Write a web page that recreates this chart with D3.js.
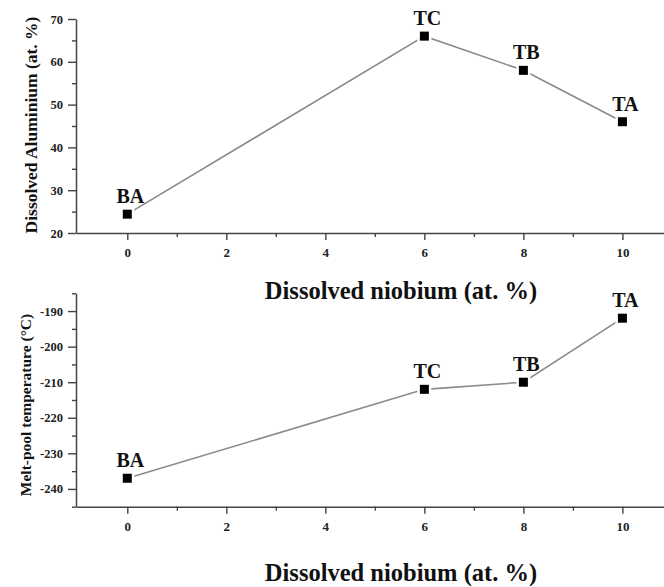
<!DOCTYPE html>
<html>
<head>
<meta charset="utf-8">
<script src="https://cdn.jsdelivr.net/npm/d3@7"></script>
<style>
  html, body { margin: 0; padding: 0; background: #fff; }
  svg { display: block; }
  text { font-family: "Liberation Serif", "Times New Roman", serif; font-weight: bold; }
</style>
</head>
<body>
<svg id="chart" width="664" height="587"></svg>
<script>
// ---- data ----
const samples = ["BA", "TC", "TB", "TA"];
const niobium = [0, 6, 8, 10];
const aluminium = [24.4, 66, 58, 46];
const meltPoolTemp = [-237, -212, -210, -192];
const xMajorTicks = [0, 2, 4, 6, 8, 10];
const xMinorTicks = [1, 3, 5, 7, 9];
const alMajorTicks = [20, 30, 40, 50, 60, 70];
const alMinorTicks = [25, 35, 45, 55, 65];
const tMajorTicks = [-240, -230, -220, -210, -200, -190];
const tMinorTicks = [-245, -235, -225, -215, -205, -195, -185];
const xTitle = "Dissolved niobium (at. %)";
const alTitle = "Dissolved Aluminium (at. %)";
const tTitle = "Melt-pool temperature (\u00B0C)";

const svg = d3.select("#chart");
const axisColor = "#444";

function panel(cfg) {
  const g = svg.append("g");
  const x = d3.scaleLinear().domain([-1.036, 10.84]).range([76, 664]);
  const y = d3.scaleLinear().domain(cfg.yDomain).range(cfg.yRange);
  const y0 = cfg.yRange[0];
  const fmt = d => String(d);

  const xa = g.append("g").attr("transform", `translate(0,${y0})`)
    .call(d3.axisBottom(x).tickValues(xMajorTicks).tickSize(7).tickPadding(8).tickSizeOuter(0).tickFormat(fmt));
  const xm = g.append("g").attr("transform", `translate(0,${y0})`)
    .call(d3.axisBottom(x).tickValues(xMinorTicks).tickSize(4).tickSizeOuter(0).tickFormat(""));
  xm.select(".domain").remove();
  const ya = g.append("g").attr("transform", `translate(76,0)`)
    .call(d3.axisLeft(y).tickValues(cfg.yMajor).tickSize(8).tickPadding(5).tickSizeOuter(0).tickFormat(fmt));
  const ym = g.append("g").attr("transform", `translate(76,0)`)
    .call(d3.axisLeft(y).tickValues(cfg.yMinor).tickSize(4).tickSizeOuter(0).tickFormat(""));
  ym.select(".domain").remove();

  g.selectAll(".domain").attr("stroke", axisColor).attr("stroke-width", 1.5);
  g.selectAll(".tick line").attr("stroke", axisColor).attr("stroke-width", 1.4);
  xa.selectAll(".tick text").attr("font-size", 13).attr("fill", "#222")
    .style("font-family", "'Liberation Serif', serif").style("font-weight", "bold");
  ya.selectAll(".tick text").attr("font-size", 12.5).attr("fill", "#222")
    .style("font-family", "'Liberation Serif', serif").style("font-weight", "bold");

  const pts = niobium.map((v, i) => ({ x: v, y: cfg.values[i], name: samples[i] }));

  g.append("path").datum(pts)
    .attr("fill", "none").attr("stroke", "#8a8a8a").attr("stroke-width", 1.6)
    .attr("d", d3.line().x(d => x(d.x)).y(d => y(d.y)));

  g.selectAll("rect.halo").data(pts).join("rect")
    .attr("x", d => x(d.x) - 7).attr("y", d => y(d.y) - 7)
    .attr("width", 14).attr("height", 14).attr("fill", "#fff");
  g.selectAll("rect.mk").data(pts).join("rect")
    .attr("x", d => x(d.x) - 4.5).attr("y", d => y(d.y) - 4.5)
    .attr("width", 9).attr("height", 9).attr("fill", "#000");

  g.selectAll("text.lbl").data(pts).join("text")
    .attr("x", d => x(d.x) + 3).attr("y", d => y(d.y) - 11)
    .attr("text-anchor", "middle").attr("font-size", 20).attr("fill", "#111")
    .text(d => d.name);

  g.append("text").attr("x", 401).attr("y", cfg.xTitleY)
    .attr("text-anchor", "middle").attr("font-size", 24.5).attr("fill", "#111")
    .text(xTitle);

  g.append("text")
    .attr("transform", `translate(${cfg.yTitleX},${cfg.yTitleY}) rotate(-90)`)
    .attr("text-anchor", "middle").attr("font-size", cfg.yTitleSize).attr("fill", "#111")
    .text(cfg.yTitle);
}

panel({
  yDomain: [20, 70], yRange: [233, 19], yMajor: alMajorTicks, yMinor: alMinorTicks,
  values: aluminium, xTitleY: 299, yTitle: alTitle, yTitleX: 37, yTitleY: 125, yTitleSize: 17.5
});
panel({
  yDomain: [-245, -185], yRange: [506.7, 293.3], yMajor: tMajorTicks, yMinor: tMinorTicks,
  values: meltPoolTemp, xTitleY: 581, yTitle: tTitle, yTitleX: 31, yTitleY: 405, yTitleSize: 15.5
});
</script>
</body>
</html>
